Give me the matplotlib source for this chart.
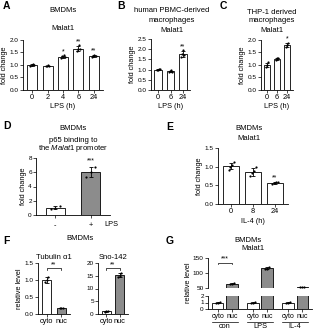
import numpy as np
import matplotlib
matplotlib.use("Agg")
import matplotlib.pyplot as plt

plt.rcParams['font.family'] = ['Liberation Sans', 'DejaVu Sans']
plt.rcParams['axes.linewidth'] = 0.6
plt.rcParams['mathtext.fontset'] = 'custom'
plt.rcParams['mathtext.rm'] = 'Liberation Sans'
plt.rcParams['mathtext.it'] = 'Liberation Sans:italic'

# ---- data ----
a_labels = ['0', '2', '4', '6', '24']
a_points = [[0.97, 1.00, 1.02, 1.01], [0.95, 0.97, 0.98, 0.96], [1.28, 1.35, 1.38, 1.31],
            [1.55, 1.62, 1.78, 1.66], [1.30, 1.35, 1.40, 1.37]]
a_stars = ['', '', '*', '**', '**']

b_labels = ['0', '6', '24']
b_points = [[0.98, 1.00, 1.02, 1.01], [0.88, 0.92, 0.96, 0.90], [1.60, 1.75, 1.95, 1.72]]
b_stars = ['', '', '**']

c_labels = ['0', '6', '24']
c_points = [[0.92, 1.00, 1.10], [1.20, 1.26, 1.29], [1.72, 1.80, 1.88]]
c_stars = ['', '', '*']

d_labels = ['-', '+']
d_points = [[0.8, 1.0, 1.3], [5.4, 6.0, 6.8]]
d_stars = ['', '***']

e_labels = ['0', '8', '24']
e_points = [[0.90, 1.00, 1.05, 1.12], [0.75, 0.82, 0.88, 0.98], [0.54, 0.56, 0.58, 0.60]]
e_stars = ['', '', '**']

f_labels = ['cyto', 'nuc']
f_tub_points = [[0.93, 1.00, 1.10], [0.17, 0.18, 0.19]]
f_sno_points = [[0.9, 1.0, 1.1], [14.6, 15.0, 16.2]]

g_groups = ['con', 'LPS', 'IL-4']
g_cyto_points = [[0.9, 1.0, 1.1], [0.95, 1.0, 1.05], [0.9, 1.0, 1.1]]
g_nuc_points = [[62, 65, 68], [112, 115, 119], [52, 53, 55]]

GRAY = '#8c8c8c'
FS_T = 5.5   # titles
FS_Y = 4.6   # y tick labels
FS_X = 5.3   # x tick labels
FS_L = 5.3   # axis labels
FS_S = 5.0   # stars

fig = plt.figure(figsize=(3.15, 3.31), dpi=100)
W, H = 315.0, 331.0


def box(x0, y0, x1, y1):
    return [x0 / W, 1 - y1 / H, (x1 - x0) / W, (y1 - y0) / H]


def ftext(x, y, s, **kw):
    kw.setdefault('fontsize', FS_T)
    kw.setdefault('ha', 'center')
    kw.setdefault('va', 'center')
    fig.text(x / W, 1 - y / H, s, **kw)


def style(ax):
    for s in ['top', 'right']:
        ax.spines[s].set_visible(False)
    ax.tick_params(length=2, width=0.5, pad=1)
    ax.tick_params(axis='y', labelsize=FS_Y)
    ax.tick_params(axis='x', labelsize=FS_X)


def bars(ax, points, colors, xs=None, width=0.65, stars=None, star_pad=0.05):
    xs = np.arange(len(points)) if xs is None else np.asarray(xs)
    means = [np.mean(p) for p in points]
    sds = [np.std(p, ddof=1) for p in points]
    ax.bar(xs, means, width=width, color=colors, edgecolor='black', linewidth=0.6, zorder=2)
    ax.errorbar(xs, means, yerr=sds, fmt='none', ecolor='black', elinewidth=0.6,
                capsize=1.5, capthick=0.6, zorder=3)
    for x, p in zip(xs, points):
        off = np.linspace(-0.12, 0.12, len(p))
        ax.scatter(x + off, p, s=2.5, color='black', zorder=4, linewidths=0)
    if stars:
        for x, m, sd, st in zip(xs, means, sds, stars):
            if st:
                ax.text(x, m + sd + star_pad, st, ha='center', va='bottom', fontsize=FS_S)
    return xs


# ---- A ----
ax = fig.add_axes(box(23, 40, 103, 90))
style(ax)
bars(ax, a_points, 'white', stars=a_stars, star_pad=0.03)
ax.set_ylim(0, 2.0)
ax.set_yticks([0, 0.5, 1.0, 1.5, 2.0])
ax.set_xlim(-0.6, 4.6)
ax.set_xticks(range(5))
ax.set_xticklabels(a_labels)
ax.set_xlabel('LPS (h)', fontsize=FS_L, labelpad=1)
ax.set_ylabel('fold change', fontsize=FS_L, labelpad=1)
ftext(3, 6, 'A', fontsize=7.5, fontweight='bold', ha='left')
ftext(63, 10, 'BMDMs')
ftext(63, 29, 'Malat1')

# ---- B ----
ax = fig.add_axes(box(151, 39, 190, 90))
style(ax)
bars(ax, b_points, 'white', stars=b_stars, star_pad=0.05)
ax.set_ylim(0, 2.5)
ax.set_yticks([0, 0.5, 1.0, 1.5, 2.0, 2.5])
ax.set_xlim(-0.6, 2.6)
ax.set_xticks(range(3))
ax.set_xticklabels(b_labels)
ax.set_xlabel('LPS (h)', fontsize=FS_L, labelpad=1)
ax.set_ylabel('fold change', fontsize=FS_L, labelpad=1)
ftext(117, 6, 'B', fontsize=7.5, fontweight='bold', ha='left')
ftext(172, 10, 'human PBMC-derived')
ftext(172, 20, 'macrophages')
ftext(172, 30, 'Malat1')

# ---- C ----
ax = fig.add_axes(box(261, 40, 293, 90))
style(ax)
bars(ax, c_points, 'white', stars=c_stars, star_pad=0.03)
ax.set_ylim(0, 2.0)
ax.set_yticks([0, 0.5, 1.0, 1.5, 2.0])
ax.set_xlim(-0.6, 2.6)
ax.set_xticks(range(3))
ax.set_xticklabels(c_labels)
ax.set_xlabel('LPS (h)', fontsize=FS_L, labelpad=1)
ax.set_ylabel('fold change', fontsize=FS_L, labelpad=1)
ftext(220, 6, 'C', fontsize=7.5, fontweight='bold', ha='left')
ftext(272, 12, 'THP-1 derived')
ftext(272, 21, 'macrophages')
ftext(272, 31, 'Malat1')

# ---- D ----
ax = fig.add_axes(box(36, 158, 110, 215))
style(ax)
bars(ax, d_points, ['white', GRAY], width=0.55, stars=d_stars, star_pad=0.3)
ax.set_ylim(0, 8)
ax.set_yticks([0, 2, 4, 6, 8])
ax.set_xlim(-0.55, 1.55)
ax.set_xticks(range(2))
ax.set_xticklabels(d_labels)
ax.tick_params(axis='x', pad=3)
ax.set_ylabel('fold change', fontsize=FS_L, labelpad=1)
ftext(104, 224, 'LPS', fontsize=FS_X, ha='left')
ftext(3, 126, 'D', fontsize=7.5, fontweight='bold', ha='left')
ftext(73, 128, 'BMDMs')
ftext(73, 140, 'p65 binding to')
ftext(73, 149, 'the $\\it{Malat1}$ promoter')

# ---- E ----
ax = fig.add_axes(box(218, 148, 288, 204))
style(ax)
bars(ax, e_points, 'white', width=0.7, stars=e_stars, star_pad=0.02)
ax.set_ylim(0, 1.5)
ax.set_yticks([0, 0.5, 1.0, 1.5])
ax.set_xlim(-0.6, 2.6)
ax.set_xticks(range(3))
ax.set_xticklabels(e_labels)
ax.set_xlabel('IL-4 (h)', fontsize=FS_L, labelpad=2)
ax.set_ylabel('fold change', fontsize=FS_L, labelpad=1)
ftext(166, 127, 'E', fontsize=7.5, fontweight='bold', ha='left')
ftext(249, 129, 'BMDMs')
ftext(249, 139, 'Malat1')


def bracket(ax, x0, x1, y, h, label):
    ax.plot([x0, x0, x1, x1], [y - h, y, y, y - h], color='black', lw=0.5, clip_on=False)
    ax.text((x0 + x1) / 2, y, label, ha='center', va='bottom', fontsize=FS_S)


# ---- F ----
ax = fig.add_axes(box(38, 263, 70, 314))
style(ax)
bars(ax, f_tub_points, ['white', GRAY], width=0.65)
ax.set_ylim(0, 1.5)
ax.set_yticks([0, 0.5, 1.0, 1.5])
ax.set_xlim(-0.6, 1.6)
ax.set_xticks(range(2))
ax.set_xticklabels(f_labels)
ax.set_ylabel('relative level', fontsize=FS_L, labelpad=1)
bracket(ax, 0, 1, 1.35, 0.06, '**')
ax.set_title('Tubulin \u03b11', fontsize=FS_T, pad=3)

ax = fig.add_axes(box(98, 263, 128, 314))
style(ax)
bars(ax, f_sno_points, ['white', GRAY], width=0.65)
ax.set_ylim(0, 20)
ax.set_yticks([0, 5, 10, 15, 20])
ax.set_xlim(-0.6, 1.6)
ax.set_xticks(range(2))
ax.set_xticklabels(f_labels)
bracket(ax, 0, 1, 18, 0.8, '**')
ax.set_title('Sno-142', fontsize=FS_T, pad=3)
ftext(3, 241, 'F', fontsize=7.5, fontweight='bold', ha='left')
ftext(80, 239, 'BMDMs')

# ---- G (broken axis) ----
xs_c = np.array([0, 2.5, 5.0])
xs_n = xs_c + 1.0
ax_top = fig.add_axes(box(208, 258, 312, 288))
ax_bot = fig.add_axes(box(208, 296, 312, 309))
for a in (ax_top, ax_bot):
    style(a)
    bars(a, g_cyto_points, 'white', xs=xs_c, width=0.8)
    bars(a, g_nuc_points, GRAY, xs=xs_n, width=0.8)
    a.set_xlim(-0.7, 6.7)
ax_top.set_ylim(50, 150)
ax_top.set_yticks([50, 100, 150])
ax_top.spines['bottom'].set_visible(False)
ax_top.set_xticks([])
ax_bot.set_ylim(0, 2)
ax_bot.set_yticks([0, 1, 2])
ax_bot.set_xticks(np.concatenate([xs_c, xs_n]))
ax_bot.set_xticklabels(['cyto'] * 3 + ['nuc'] * 3, fontsize=5.0)
bracket(ax_top, 0, 1, 135, 4, '***')
ftext(189, 283, 'relative level', fontsize=FS_L, rotation=90)
for xc, g in zip(xs_c, g_groups):
    x0 = ax_bot.transData.transform((xc - 0.45, 0))[0]
    x1 = ax_bot.transData.transform((xc + 1.45, 0))[0]
    fig.add_artist(plt.Line2D([x0 / W, x1 / W], [1 - 322 / H, 1 - 322 / H],
                              color='black', lw=0.5, transform=fig.transFigure))
    ftext((x0 + x1) / 2, 327, g, fontsize=FS_X)
ftext(166, 241, 'G', fontsize=7.5, fontweight='bold', ha='left')
ftext(248, 241, 'BMDMs')
ftext(253, 249, 'Malat1')

fig.savefig('out.png', dpi=100)
